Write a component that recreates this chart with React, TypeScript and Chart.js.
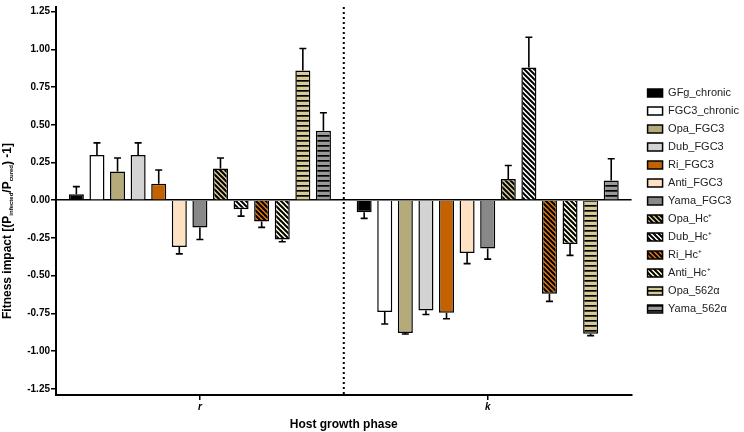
import React, { useEffect, useRef } from 'react';
import { Chart, registerables } from 'chart.js';

Chart.register(...registerables);

// host growth phases
const phases = ['r', 'k'];

const seriesNames = [
  'GFg_chronic', 'FGC3_chronic', 'Opa_FGC3', 'Dub_FGC3', 'Ri_FGC3', 'Anti_FGC3', 'Yama_FGC3',
  'Opa_Hc\u207A', 'Dub_Hc\u207A', 'Ri_Hc\u207A', 'Anti_Hc\u207A', 'Opa_562\u03B1', 'Yama_562\u03B1',
];

// mean fitness impact per series, r phase and k phase
const rMeans = [0.04, 0.30, 0.19, 0.30, 0.11, -0.31, -0.18, 0.21, -0.06, -0.14, -0.26, 0.86, 0.46];
const kMeans = [-0.08, -0.74, -0.88, -0.73, -0.745, -0.35, -0.32, 0.14, 0.88, -0.62, -0.29, -0.885, 0.13];

// error bar lengths (one sided, away from zero)
const rErrors = [0.05, 0.08, 0.09, 0.08, 0.09, 0.045, 0.08, 0.07, 0.045, 0.04, 0.015, 0.145, 0.12];
const kErrors = [0.04, 0.08, 0.006, 0.027, 0.04, 0.07, 0.07, 0.09, 0.2, 0.05, 0.075, 0.012, 0.145];

const KHAKI = '#B5AA7A';

// fill style of each series: solid colour or a stripe pattern
const fills: { kind: 'solid' | 'diag' | 'horiz'; color: string }[] = [
  { kind: 'solid', color: '#000000' },
  { kind: 'solid', color: '#FFFFFF' },
  { kind: 'solid', color: KHAKI },
  { kind: 'solid', color: '#D3D3D3' },
  { kind: 'solid', color: '#C46200' },
  { kind: 'solid', color: '#FFE2C4' },
  { kind: 'solid', color: '#888888' },
  { kind: 'diag', color: '#D6CB98' },
  { kind: 'diag', color: '#FFFFFF' },
  { kind: 'diag', color: '#E0780A' },
  { kind: 'diag', color: '#FFFBDD' },
  { kind: 'horiz', color: '#D6CB98' },
  { kind: 'horiz', color: '#999999' },
];

function makeFill(ctx: CanvasRenderingContext2D, kind: string, color: string): string | CanvasPattern {
  if (kind === 'solid') return color;
  const tile = document.createElement('canvas');
  const s = 5;
  tile.width = s;
  tile.height = s;
  const t = tile.getContext('2d')!;
  t.fillStyle = color;
  t.fillRect(0, 0, s, s);
  t.strokeStyle = '#000';
  t.fillStyle = '#000';
  if (kind === 'diag') {
    t.lineWidth = 2;
    for (const c of [-s, 0, s]) {
      t.beginPath();
      t.moveTo(-1, c - 1);
      t.lineTo(s + 1, c + s + 1);
      t.stroke();
    }
  } else {
    t.fillRect(0, 0, s, 1.7);
  }
  return ctx.createPattern(tile, 'repeat') || color;
}

const errorBars = {
  id: 'errorBars',
  afterDatasetsDraw(chart: any) {
    const { ctx } = chart;
    const y = chart.scales.y;
    ctx.save();
    ctx.strokeStyle = '#000';
    ctx.lineWidth = 1.6;
    chart.data.datasets.forEach((ds: any, i: number) => {
      const meta = chart.getDatasetMeta(i);
      meta.data.forEach((bar: any, j: number) => {
        const v = ds.data[j];
        const e = ds.errors[j];
        const end = y.getPixelForValue(v + (v >= 0 ? e : -e));
        ctx.beginPath();
        ctx.moveTo(bar.x, bar.y);
        ctx.lineTo(bar.x, end);
        ctx.moveTo(bar.x - 3.5, end);
        ctx.lineTo(bar.x + 3.5, end);
        ctx.stroke();
      });
    });
    ctx.restore();
  },
};

const separator = {
  id: 'separator',
  afterDraw(chart: any) {
    const { ctx, chartArea } = chart;
    const x = chart.scales.x;
    const px = (x.getPixelForValue(0) + x.getPixelForValue(1)) / 2;
    ctx.save();
    ctx.strokeStyle = '#000';
    ctx.lineWidth = 2;
    ctx.setLineDash([2, 3]);
    ctx.beginPath();
    ctx.moveTo(px, chartArea.top);
    ctx.lineTo(px, chartArea.bottom);
    ctx.stroke();
    ctx.restore();
  },
};

// y title with subscripts
const yTitle = {
  id: 'yTitle',
  afterDraw(chart: any) {
    const { ctx } = chart;
    const parts: [string, boolean][] = [
      ['Fitness impact [(P', false], ['infected', true], ['/P', false], ['cured', true], [') -1]', false],
    ];
    const big = 'bold 12px "Liberation Sans", Arial, sans-serif';
    const small = 'bold 6px "Liberation Sans", Arial, sans-serif';
    ctx.save();
    let total = 0;
    parts.forEach(([t, sub]) => {
      ctx.font = sub ? small : big;
      total += ctx.measureText(t).width;
    });
    ctx.translate(8, 231);
    ctx.rotate(-Math.PI / 2);
    ctx.fillStyle = '#000';
    ctx.textBaseline = 'middle';
    let cx = -total / 2;
    parts.forEach(([t, sub]) => {
      ctx.font = sub ? small : big;
      ctx.fillText(t, cx, sub ? 3 : 0);
      cx += ctx.measureText(t).width;
    });
    ctx.restore();
  },
};

export default function App() {
  const canvasRef = useRef<HTMLCanvasElement | null>(null);

  useEffect(() => {
    document.body.style.margin = '0';
    const ctx = canvasRef.current?.getContext('2d');
    if (!ctx) return;

    const datasets = seriesNames.map((name, i) => ({
      label: name,
      data: [rMeans[i], kMeans[i]],
      errors: [rErrors[i], kErrors[i]],
      backgroundColor: makeFill(ctx, fills[i].kind, fills[i].color),
      borderColor: '#000',
      borderWidth: 1.5,
      barPercentage: 0.73,
      categoryPercentage: 0.93,
    }));

    const chart = new Chart(ctx, {
      type: 'bar',
      data: { labels: phases, datasets: datasets as any },
      options: {
        animation: false,
        responsive: false,
        layout: { padding: { top: 5, left: 0, right: -5, bottom: 0 } },
        plugins: {
          tooltip: { enabled: false },
          legend: {
            position: 'right',
            fullSize: false,
            labels: {
              boxWidth: 15,
              boxHeight: 8,
              padding: 7,
              color: '#222',
              font: { family: '"Liberation Sans", Arial, sans-serif', size: 11 },
            },
          },
        },
        scales: {
          x: {
            afterFit: (s: any) => { s.height = 37; },
            grid: { drawOnChartArea: false, offset: false, tickLength: 5, color: '#000', lineWidth: 1.5 },
            border: { color: '#000', width: 2 },
            ticks: {
              color: '#000',
              padding: 1,
              font: { family: '"Liberation Sans", Arial, sans-serif', size: 10, weight: 'bold', style: 'italic' },
            },
            title: {
              display: true,
              text: 'Host growth phase',
              color: '#000',
              padding: 0,
              font: { family: '"Liberation Sans", Arial, sans-serif', size: 12, weight: 'bold' },
            },
          },
          y: {
            min: -1.29,
            max: 1.28,
            afterFit: (s: any) => { s.width = 56; },
            grid: {
              color: (c: any) => (c.tick && c.tick.value === 0 ? '#000' : 'rgba(0,0,0,0)'),
              tickColor: '#000',
              tickLength: 5,
              lineWidth: 1.5,
            },
            border: { color: '#000', width: 2 },
            ticks: {
              stepSize: 0.25,
              includeBounds: false,
              maxTicksLimit: 20,
              padding: 1,
              color: '#000',
              font: { family: '"Liberation Sans", Arial, sans-serif', size: 10, weight: 'bold' },
              callback: (v: any) => Number(v).toFixed(2),
            },
          },
          gap: {
            type: 'linear',
            position: 'right',
            afterFit: (s: any) => { s.width = 9; },
            grid: { display: false },
            ticks: { display: false },
            border: { display: false },
          },
        },
      } as any,
      plugins: [errorBars, separator, yTitle],
    });

    return () => chart.destroy();
  }, []);

  return (
    <div style={{ width: 744, height: 432 }}>
      <canvas ref={canvasRef} width={744} height={432} />
    </div>
  );
}
